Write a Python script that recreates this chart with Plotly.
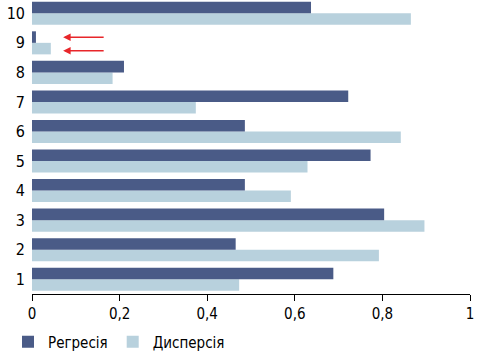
import plotly.graph_objects as go

categories = [1, 2, 3, 4, 5, 6, 7, 8, 9, 10]
regresia = [0.688, 0.465, 0.804, 0.486, 0.773, 0.486, 0.722, 0.21, 0.009, 0.637]
dyspersia = [0.473, 0.792, 0.896, 0.591, 0.629, 0.842, 0.374, 0.184, 0.043, 0.865]
x_ticks = [0, 0.2, 0.4, 0.6, 0.8, 1]
x_tick_labels = [f"{v:g}".replace(".", ",") for v in x_ticks]

DARK = "#4a5b87"
LIGHT = "#b8d1dd"
FONT = "DejaVu Sans Condensed, Liberation Sans Narrow, Roboto, sans-serif"

fig = go.Figure()
fig.add_trace(go.Bar(y=categories, x=dyspersia, name="Дисперсія", orientation="h",
                     marker=dict(color=LIGHT, line=dict(width=0))))
fig.add_trace(go.Bar(y=categories, x=regresia, name="Регресія", orientation="h",
                     marker=dict(color=DARK, line=dict(width=0))))

# red arrows pointing at the tiny bars of category 9
for dy in (0.19, -0.27):
    fig.add_annotation(x=0.071, y=9 + dy, ax=0.167, ay=9 + dy,
                       xref="x", yref="y", axref="x", ayref="y",
                       showarrow=True, arrowhead=2, arrowsize=1, arrowwidth=1.5,
                       arrowcolor="#e8262a", text="")

fig.update_layout(
    width=478, height=354,
    margin=dict(l=32, r=8, t=0, b=60),
    paper_bgcolor="white", plot_bgcolor="white",
    barmode="group", bargap=0.22, bargroupgap=0,
    font=dict(family=FONT, size=15, color="black"),
    showlegend=True,
    legend=dict(orientation="h", x=8 / 478, xref="container",
                y=12 / 354, yref="container", yanchor="middle",
                xanchor="left", traceorder="reversed",
                font=dict(family=FONT, size=15), itemwidth=30,
                tracegroupgap=0),
    xaxis=dict(range=[0, 1], tickvals=x_ticks, ticktext=x_tick_labels,
               showgrid=False, zeroline=False, showline=True, linecolor="black",
               linewidth=1, ticks="outside", ticklen=6, tickcolor="black",
               tickfont=dict(family=FONT, size=15)),
    yaxis=dict(range=[0.5, 10.45], tickvals=categories, showgrid=False,
               zeroline=False, showline=False, ticks="", ticklabelstandoff=6,
               tickfont=dict(family=FONT, size=16)),
)
fig.write_html("out.html")
